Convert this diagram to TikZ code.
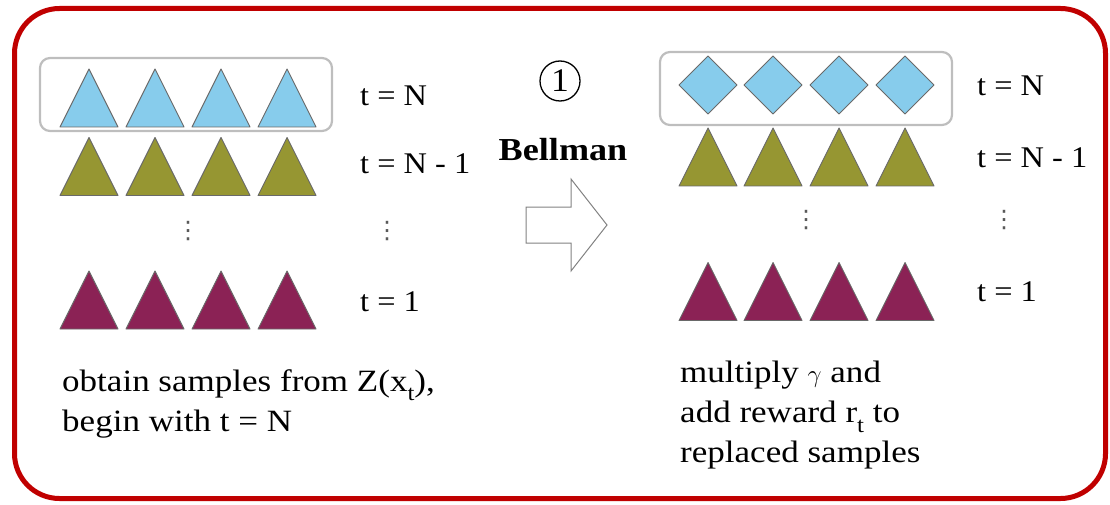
\documentclass[tikz,border=0pt]{standalone}
\usepackage{fontspec}
\setmainfont{Liberation Serif}
\newfontfamily\bodyfont[FakeStretch=1.13]{Liberation Serif}
\newfontfamily\labelfont[FakeStretch=1.08]{Liberation Serif}
\newfontfamily\symfont{DejaVu Sans}
\definecolor{framered}{RGB}{192,0,0}
\definecolor{skyfill}{RGB}{135,204,236}
\definecolor{olivefill}{RGB}{150,150,50}
\definecolor{maroonfill}{RGB}{139,34,85}
\definecolor{edgegray}{RGB}{105,105,105}
\definecolor{boxgray}{RGB}{190,190,190}
\definecolor{arrowgray}{RGB}{130,130,130}
\tikzset{
  frame/.style={draw=framered, line width=5pt, rounded corners=45pt},
  groupbox/.style={draw=boxgray, line width=2.2pt, rounded corners=10pt},
  shapeedge/.style={draw=edgegray, line width=0.9pt, line join=round},
  tri/.pic={\path[shapeedge,pic actions] (-29,29) -- (0,-29) -- (29,29) -- cycle;},
  dia/.pic={\path[shapeedge,pic actions] (-29,0) -- (0,-29) -- (29,0) -- (0,29) -- cycle;},
  steplabel/.style={anchor=west, inner sep=0pt, font=\labelfont\fontsize{30}{36}\selectfont},
  bodytext/.style={anchor=north west, inner sep=0pt, align=left, font=\bodyfont\fontsize{31}{40}\selectfont},
  vdotsmark/.style={inner sep=0pt, text=black!65, font=\symfont\fontsize{24}{24}\selectfont},
}
\newcommand{\lowsub}[1]{\raisebox{-0.32em}{\fontsize{22}{22}\selectfont #1}}
\begin{document}
\begin{tikzpicture}[x=1pt,y=-1pt]
\useasboundingbox (0,0) rectangle (1110,505);
% outer frame
\draw[frame] (14.5,8.5) rectangle (1105.5,498.5);

% ---- left panel ----
\draw[groupbox] (40,58) rectangle (332,131);
\foreach \x in {89,155,221,287} {
  \pic[fill=skyfill] at (\x,98) {tri};
  \pic[fill=olivefill] at (\x,166.5) {tri};
  \pic[fill=maroonfill] at (\x,300) {tri};
}
\node[vdotsmark] (ldotsA) at (188,231) {⋮};
\node[steplabel] (lN) at (360,96) {t = N};
\node[steplabel] (lN1) at (360,164) {t = N - 1};
\node[vdotsmark] (ldotsB) at (387,231) {⋮};
\node[steplabel] (l1) at (360,302) {t = 1};
\node[bodytext] (ltext) at (62,369) {obtain samples from Z(x\lowsub{t}),\\begin with t = N};

% ---- middle: Bellman step ----
\node[circle, draw=black, line width=1.3pt, inner sep=0pt, minimum size=40pt,
      font=\labelfont\fontsize{33}{33}\selectfont] (num) at (560,81) {1};
\node[inner sep=0pt, font=\bodyfont\bfseries\fontsize{32}{36}\selectfont] (bell) at (563,150) {Bellman};
\draw[arrowgray, line width=1pt, fill=white]
  (526,207) -- (571,207) -- (571,179) -- (607,225) -- (571,271) -- (571,243) -- (526,243) -- cycle;

% ---- right panel ----
\draw[groupbox] (660,52) rectangle (952,125);
\foreach \x in {708,773,839,905} {
  \pic[fill=skyfill] at (\x,85) {dia};
  \pic[fill=olivefill] at (\x,157) {tri};
  \pic[fill=maroonfill] at (\x,291.5) {tri};
}
\node[vdotsmark] (rdotsA) at (806,220) {⋮};
\node[steplabel] (rN) at (977,86) {t = N};
\node[steplabel] (rN1) at (977,158) {t = N - 1};
\node[vdotsmark] (rdotsB) at (1004,220) {⋮};
\node[steplabel] (r1) at (977,292) {t = 1};
\node[bodytext] (rtext) at (680,361) {multiply $\gamma$ and\\add reward r\lowsub{t} to\\replaced samples};
\end{tikzpicture}
\end{document}
